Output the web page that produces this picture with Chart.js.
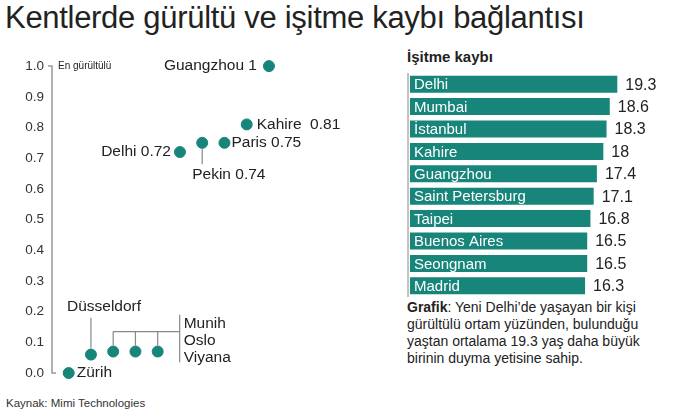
<!DOCTYPE html>
<html><head><meta charset="utf-8">
<script src="https://cdn.jsdelivr.net/npm/chart.js@4"></script>
<style>
body{margin:0;width:700px;height:416px;background:#fff;font-family:"Liberation Sans",Arial,sans-serif;color:#222;position:relative;overflow:hidden}
#title{position:absolute;left:5px;top:0px;font-size:31px;color:#222;letter-spacing:-0.3px}
#lc{position:absolute;left:0;top:50px}
#rc{position:absolute;left:400px;top:70px}
#rh{position:absolute;left:407px;top:48px;font-size:15px;font-weight:bold;color:#222}
#cap{position:absolute;left:407px;top:299px;font-size:14px;line-height:17px;color:#222;width:262px}
#src{position:absolute;left:6px;top:397px;font-size:11.5px;color:#333}
</style></head><body>
<div id="title">Kentlerde gürültü ve işitme kaybı bağlantısı</div>
<div id="rh">İşitme kaybı</div>
<div id="cap"><b>Grafik</b>: Yeni Delhi’de yaşayan bir kişi gürültülü ortam yüzünden, bulunduğu yaştan ortalama 19.3 yaş daha büyük birinin duyma yetisine sahip.</div>
<div id="src">Kaynak: Mimi Technologies</div>
<canvas id="lc" width="350" height="340" style="width:350px;height:340px"></canvas>
<canvas id="rc" width="300" height="230" style="width:300px;height:230px"></canvas>
<script>
const noiseCities=["Zürih","Düsseldorf","Munih","Oslo","Viyana","Delhi","Pekin","Paris","Kahire","Guangzhou"];
const noiseValues=[0,0.06,0.07,0.07,0.07,0.72,0.75,0.75,0.81,1];
const noiseLabels=["Zürih","Düsseldorf","Munih","Oslo","Viyana","Delhi 0.72","Pekin 0.74","Paris 0.75","Kahire  0.81","Guangzhou 1"];
const lossCities=["Delhi","Mumbai","İstanbul","Kahire","Guangzhou","Saint Petersburg","Taipei","Buenos Aires","Seongnam","Madrid"];
const lossValues=[19.3,18.6,18.3,18,17.4,17.1,16.8,16.5,16.5,16.3];
const teal="#17857a";
const F='"Liberation Sans",Arial,sans-serif';

const annot={id:'annot',afterDatasetsDraw(c){
 const x=c.scales.x,y=c.scales.y,ctx=c.ctx;
 const px=i=>x.getPixelForValue(i),py=v=>y.getPixelForValue(v);
 ctx.save();ctx.fillStyle="#222";ctx.strokeStyle="#888";ctx.lineWidth=1.2;ctx.textBaseline="middle";
 ctx.strokeStyle="#999";ctx.lineWidth=1.5;ctx.beginPath();
 ctx.moveTo(x.left-4,py(1));ctx.lineTo(x.left,py(1));ctx.lineTo(x.left,py(0));ctx.lineTo(x.left+4,py(0));ctx.stroke();
 ctx.strokeStyle="#888";ctx.lineWidth=1.2;
 ctx.font="10px "+F;ctx.textAlign="left";ctx.fillText("En gürültülü",x.left+6,py(1));
 ctx.font="15.5px "+F;
 const t=(s,xx,yy,a)=>{ctx.textAlign=a;ctx.fillText(s,xx,yy);};
 t(noiseLabels[9],px(9)-12,py(1),"right");
 t(noiseLabels[8],px(8)+10,py(0.81),"left");
 t(noiseLabels[7],px(7)+7,py(0.75),"left");
 t(noiseLabels[5],px(5)-9,py(0.72),"right");
 ctx.beginPath();ctx.moveTo(px(6),py(0.75)+6);ctx.lineTo(px(6),py(0.68));ctx.stroke();
 t(noiseLabels[6],px(6)-10,py(0.645),"left");
 t(noiseLabels[0],px(0)+8,py(0),"left");
 t(noiseLabels[1],px(1)-24,py(0.215),"left");
 ctx.beginPath();ctx.moveTo(px(1),py(0.06)-6);ctx.lineTo(px(1),py(0.18));ctx.stroke();
 const hb=py(0.135);
 ctx.beginPath();ctx.moveTo(px(2),hb);ctx.lineTo(px(4)+22,hb);
 [2,3,4].forEach(i=>{ctx.moveTo(px(i),hb);ctx.lineTo(px(i),py(0.07)-6);});
 ctx.moveTo(px(4)+22,py(0.19));ctx.lineTo(px(4)+22,py(0.035));ctx.stroke();
 t(noiseLabels[2],px(4)+26,py(0.16),"left");
 t(noiseLabels[3],px(4)+26,py(0.105),"left");
 t(noiseLabels[4],px(4)+26,py(0.05),"left");
 ctx.restore();
}};

new Chart(document.getElementById('lc'),{type:'scatter',
 data:{datasets:[{data:noiseValues.map((v,i)=>({x:i,y:v})),backgroundColor:teal,borderColor:teal,pointRadius:5.5,pointHoverRadius:5.5,clip:false}]},
 options:{responsive:false,animation:false,events:[],layout:{padding:{top:12,bottom:17,right:0,left:0}},
  plugins:{legend:{display:false},tooltip:{enabled:false}},
  scales:{x:{type:'linear',min:-0.75,max:12.35,display:false},
   y:{min:0,max:1,afterFit(s){s.width=52;},grid:{display:false,drawTicks:false},border:{display:false},
    ticks:{stepSize:0.1,padding:8,color:"#333",font:{size:13.5,family:F},callback:v=>v.toFixed(1)}}}},
 plugins:[annot]});

const barLab={id:'barLab',afterDatasetsDraw(c){
 const ctx=c.ctx,m=c.getDatasetMeta(0);ctx.save();ctx.textBaseline="middle";
 ctx.strokeStyle="#999";ctx.lineWidth=1.2;ctx.beginPath();ctx.moveTo(c.chartArea.left-2,c.chartArea.top);ctx.lineTo(c.chartArea.left-2,c.chartArea.bottom);ctx.stroke();
 m.data.forEach((b,i)=>{ctx.font="15px "+F;ctx.fillStyle="#fff";ctx.textAlign="left";ctx.fillText(lossCities[i],c.chartArea.left+4,b.y+1);
  ctx.font="16px "+F;ctx.fillStyle="#222";ctx.fillText(String(lossValues[i]),b.x+8,b.y+1);});
 ctx.restore();}};

new Chart(document.getElementById('rc'),{type:'bar',
 data:{labels:lossCities,datasets:[{data:lossValues,backgroundColor:teal,barPercentage:0.76,categoryPercentage:1}]},
 options:{indexAxis:'y',responsive:false,animation:false,events:[],layout:{padding:{left:10,top:3,bottom:3,right:0}},
  plugins:{legend:{display:false},tooltip:{enabled:false}},
  scales:{x:{min:0,max:27,display:false},y:{display:false}}},
 plugins:[barLab]});
</script></body></html>
